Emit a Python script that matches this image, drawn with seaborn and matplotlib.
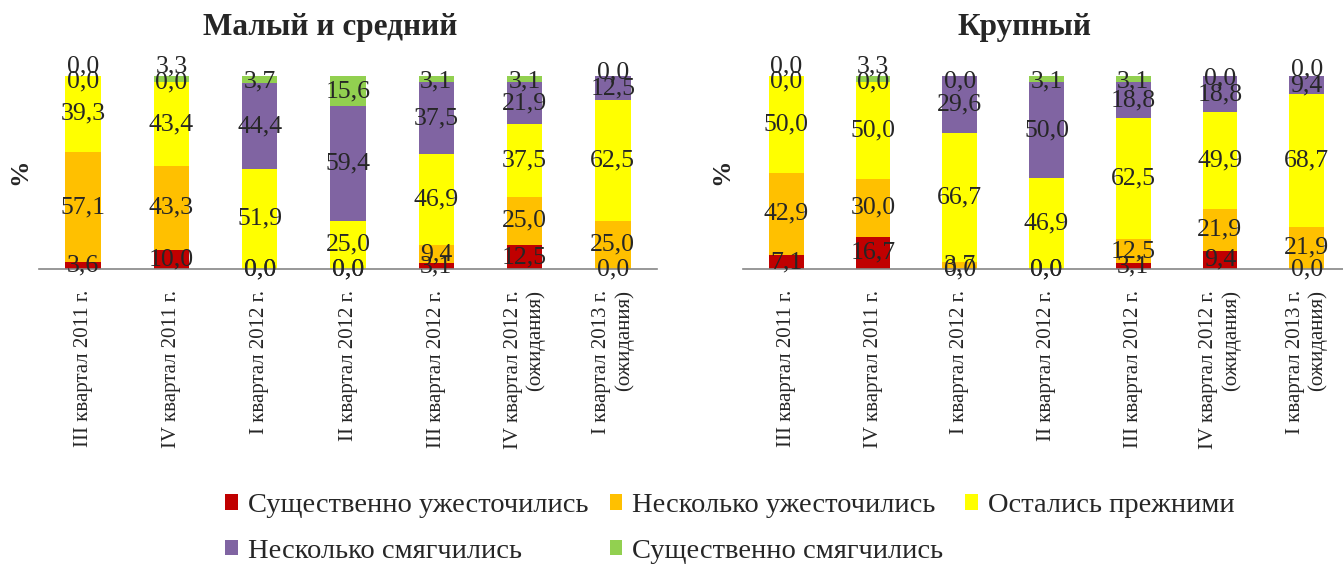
import numpy as np
import matplotlib
matplotlib.use('Agg')
import matplotlib.pyplot as plt
from matplotlib.patches import Patch
import seaborn as sns

# Data
periods = ['III квартал 2011 г.', 'IV квартал 2011 г.', 'I квартал 2012 г.', 'II квартал 2012 г.',
           'III квартал 2012 г.', 'IV квартал 2012 г.\n(ожидания)', 'I квартал 2013 г.\n(ожидания)']
series = ['Существенно ужесточились', 'Несколько ужесточились', 'Остались прежними',
          'Несколько смягчились', 'Существенно смягчились']
colors = ['#C00000', '#FFC000', '#FFFF00', '#8064A2', '#92D050']

# Малый и средний
small_sharp_tight = [3.6, 10.0, 0.0, 0.0, 3.1, 12.5, 0.0]
small_some_tight = [57.1, 43.3, 0.0, 0.0, 9.4, 25.0, 25.0]
small_same = [39.3, 43.4, 51.9, 25.0, 46.9, 37.5, 62.5]
small_some_eased = [0.0, 0.0, 44.4, 59.4, 37.5, 21.9, 12.5]
small_sharp_eased = [0.0, 3.3, 3.7, 15.6, 3.1, 3.1, 0.0]

# Крупный
large_sharp_tight = [7.1, 16.7, 0.0, 0.0, 3.1, 9.4, 0.0]
large_some_tight = [42.9, 30.0, 3.7, 0.0, 12.5, 21.9, 21.9]
large_same = [50.0, 50.0, 66.7, 46.9, 62.5, 49.9, 68.7]
large_some_eased = [0.0, 0.0, 29.6, 50.0, 18.8, 18.8, 9.4]
large_sharp_eased = [0.0, 3.3, 0.0, 3.1, 3.1, 0.0, 0.0]

sns.set_style('white')
plt.rcParams['font.family'] = ['Liberation Serif', 'DejaVu Serif']

fig = plt.figure(figsize=(13.43, 5.66), dpi=100)


def draw_panel(ax, values):
    values = np.array(values)
    cum = np.cumsum(values, axis=0)
    # stacked bars: draw cumulative totals from the top layer down
    for i in range(len(series) - 1, -1, -1):
        sns.barplot(x=periods, y=cum[i], color=colors[i], width=0.4,
                    saturation=1, linewidth=0, ax=ax)
    # value labels (kept under the top, nudged up when they collide near the top)
    for j in range(len(periods)):
        prev = None
        for i in range(len(series)):
            pos = min(cum[i][j] - values[i][j] / 2, 97)
            if prev is not None and pos > 50 and pos - prev < 8:
                pos = prev + 8
            prev = pos
            ax.text(j, pos, f'{values[i][j]:.1f}'.replace('.', ','),
                    ha='center', va='center', fontsize=18.5, clip_on=False)
    ax.set_xlim(-0.5, 6.5)
    ax.set_ylim(0, 100)
    ax.set_yticks([])
    ax.set_xlabel('')
    ax.set_ylabel('')
    for s in ['top', 'right', 'left']:
        ax.spines[s].set_visible(False)
    ax.spines['bottom'].set_color('#868686')
    ax.spines['bottom'].set_linewidth(1.2)
    ax.set_xticks(np.arange(-0.5, 7, 1), minor=True)
    ax.tick_params(axis='x', which='minor', length=6, width=1.2, color='#868686', direction='out')
    ax.tick_params(axis='x', which='major', length=0, pad=15, labelsize=15)
    plt.setp(ax.get_xticklabels(), rotation=90, multialignment='right')


ax1 = fig.add_axes([39 / 1343, 0.5247, 618 / 1343, 0.341])
draw_panel(ax1, [small_sharp_tight, small_some_tight, small_same, small_some_eased, small_sharp_eased])
ax2 = fig.add_axes([743 / 1343, 0.5247, 607 / 1343, 0.341])
draw_panel(ax2, [large_sharp_tight, large_some_tight, large_same, large_some_eased, large_sharp_eased])

fig.text(330 / 1343, 1 - 28 / 566, 'Малый и средний', ha='center', va='center',
         fontsize=22.5, fontweight='bold')
fig.text(1025 / 1343, 1 - 28 / 566, 'Крупный', ha='center', va='center',
         fontsize=22.5, fontweight='bold')
fig.text(20 / 1343, 1 - 172 / 566, '%', rotation=90, ha='center', va='center',
         fontsize=19, fontweight='bold')
fig.text(722 / 1343, 1 - 172 / 566, '%', rotation=90, ha='center', va='center',
         fontsize=19, fontweight='bold')

# legend, row-major order in 3 columns
handles = [Patch(facecolor=c, edgecolor='none') for c in colors]
order = [0, 3, 1, 4, 2]
fig.legend([handles[k] for k in order], [series[k] for k in order],
           loc='upper left', bbox_to_anchor=(225 / 1343, 1 - 493 / 566), ncol=3,
           frameon=False, fontsize=20.5, handlelength=0.45, handleheight=0.45,
           handletextpad=0.35, columnspacing=0.75, labelspacing=0.72,
           borderpad=0, borderaxespad=0)

fig.savefig('out.png', dpi=100)
